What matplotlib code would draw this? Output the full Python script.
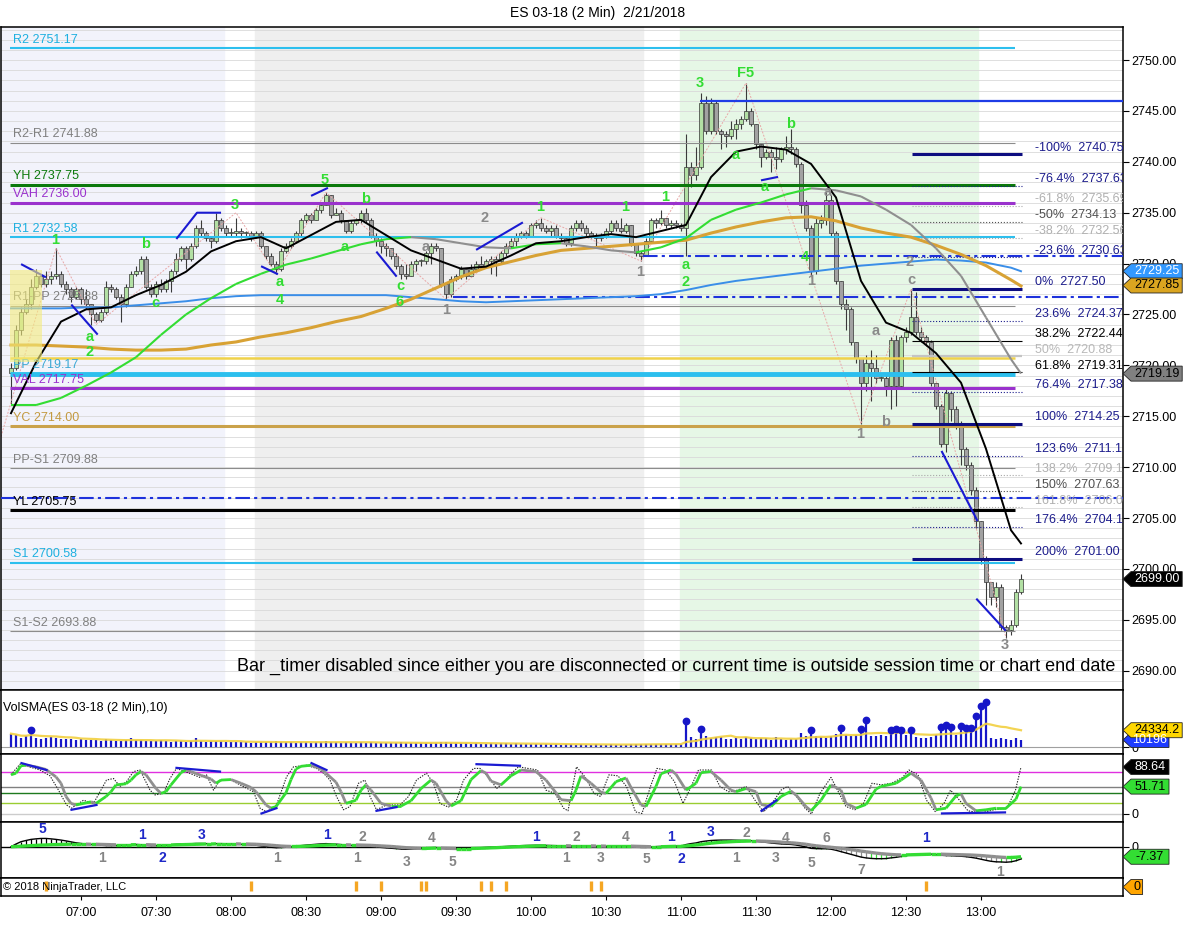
import numpy as np
import pandas as pd
import matplotlib
matplotlib.use("Agg")
import matplotlib.pyplot as plt
from matplotlib.collections import LineCollection
from matplotlib.patches import Polygon, Rectangle
from matplotlib.transforms import IdentityTransform

plt.rcParams['font.family'] = ['Liberation Sans', 'DejaVu Sans']

# ---------------- data (2 min bars, index 0 = 06:32) ----------------
open0 = 2719.25
closes = [
    2719.75, 2723.5, 2725.25, 2726.0, 2727.75, 2728.75, 2728.0, 2728.5, 2728.75, 2729.0,
    2728.0, 2727.5, 2726.75, 2727.5, 2726.5, 2726.0, 2725.0, 2724.5, 2725.25, 2727.75,
    2727.5, 2726.75, 2726.0, 2727.75, 2729.0, 2729.25, 2730.5, 2727.75, 2727.0, 2728.0,
    2727.5, 2728.25, 2729.25, 2730.5, 2731.5, 2730.5, 2731.75, 2733.5, 2733.0, 2732.5,
    2732.25, 2734.25, 2733.5, 2733.0, 2733.0, 2733.25, 2733.0, 2733.0, 2732.75, 2733.0,
    2731.75, 2730.75, 2730.0, 2729.5, 2731.25, 2731.75, 2732.25, 2733.0, 2734.25, 2734.75,
    2734.25, 2735.25, 2735.75, 2736.75, 2734.75, 2735.0, 2734.25, 2733.25, 2734.0, 2734.25,
    2735.0, 2734.25, 2732.75, 2732.25, 2731.75, 2731.5, 2730.75, 2729.75, 2729.0, 2728.75,
    2730.0, 2730.25, 2730.25, 2731.0, 2731.75, 2731.5, 2728.0, 2727.0, 2728.5, 2728.75,
    2729.5, 2728.75, 2729.5, 2730.0, 2729.75, 2730.25, 2730.5, 2730.25, 2731.0, 2731.75,
    2732.25, 2732.75, 2733.0, 2732.75, 2733.75, 2734.0, 2733.5, 2733.25, 2733.5, 2732.75,
    2732.5, 2732.0, 2733.5, 2734.0, 2733.5, 2733.0, 2732.75, 2732.5, 2732.75, 2733.25,
    2734.0, 2733.5, 2733.25, 2733.75, 2732.0, 2731.0, 2730.75, 2732.25, 2734.25, 2734.0,
    2734.5, 2733.75, 2734.0, 2733.75, 2733.5, 2739.5, 2738.75, 2739.5, 2745.75, 2743.0,
    2745.75, 2743.0, 2742.75, 2742.5, 2743.25, 2743.75, 2744.25, 2745.0, 2743.75, 2741.75,
    2740.5, 2741.0, 2740.5, 2740.25, 2741.25, 2741.5, 2741.25, 2739.75, 2735.75, 2733.5,
    2729.25, 2734.0, 2734.25, 2736.25, 2733.0, 2728.25, 2726.0, 2725.5, 2722.25, 2720.75,
    2718.25, 2720.25, 2719.75, 2718.75, 2718.75, 2718.0, 2722.5, 2718.0, 2722.75, 2723.25,
    2724.75, 2723.25, 2722.75, 2722.25, 2718.25, 2716.0, 2712.25, 2717.25, 2715.75, 2714.25,
    2711.75, 2710.25, 2707.75, 2704.75, 2701.0, 2698.75, 2697.25, 2698.25, 2694.25, 2694.0,
    2694.5, 2697.75, 2699.0]
highs = [
    2720.25, 2724.0, 2725.75, 2726.5, 2728.5, 2729.5, 2729.0, 2729.25, 2729.25, 2731.5,
    2729.25, 2728.25, 2727.75, 2727.75, 2727.75, 2727.5, 2726.0, 2725.25, 2725.5, 2728.25,
    2728.0, 2727.75, 2727.0, 2728.0, 2729.25, 2729.75, 2730.75, 2730.75, 2728.0, 2728.25,
    2728.5, 2728.5, 2729.5, 2731.0, 2731.75, 2731.75, 2732.0, 2733.75, 2734.25, 2733.25,
    2732.75, 2735.0, 2734.5, 2733.75, 2733.5, 2734.5, 2733.5, 2733.25, 2733.25, 2733.25,
    2733.25, 2731.75, 2731.0, 2730.25, 2731.5, 2732.0, 2732.5, 2733.25, 2734.5, 2735.0,
    2735.0, 2735.5, 2736.0, 2737.0, 2736.75, 2735.5, 2735.25, 2734.25, 2734.25, 2734.5,
    2735.25, 2735.5, 2734.5, 2733.0, 2732.5, 2732.0, 2731.5, 2731.0, 2730.0, 2730.0,
    2730.25, 2730.5, 2730.5, 2731.25, 2732.0, 2732.0, 2731.5, 2728.0, 2728.75, 2729.0,
    2729.75, 2729.5, 2730.0, 2730.25, 2730.75, 2730.5, 2730.75, 2730.75, 2731.25, 2732.0,
    2732.5, 2733.0, 2733.25, 2733.25, 2734.0, 2734.25, 2734.5, 2733.75, 2733.75, 2733.75,
    2733.0, 2732.75, 2733.75, 2734.25, 2734.25, 2733.75, 2733.25, 2733.0, 2733.0, 2733.5,
    2734.25, 2734.25, 2734.5, 2734.0, 2733.75, 2732.0, 2731.25, 2732.5, 2734.5, 2734.5,
    2735.25, 2734.5, 2734.25, 2734.25, 2734.0, 2742.75, 2740.0, 2741.5, 2746.75, 2746.5,
    2746.25, 2746.0, 2743.25, 2743.0, 2744.0, 2744.25, 2744.5, 2747.75, 2745.25, 2743.75,
    2741.75, 2741.25, 2741.25, 2741.5, 2741.5, 2742.5, 2743.25, 2741.5, 2740.0, 2736.25,
    2733.75, 2734.5, 2734.75, 2737.0, 2736.75, 2733.25, 2728.25, 2726.5, 2725.75, 2722.25,
    2720.75, 2721.0, 2721.5, 2721.0, 2719.25, 2719.25, 2722.75, 2723.0, 2723.0, 2723.75,
    2727.5, 2727.25, 2723.75, 2723.0, 2722.5, 2718.25, 2716.25, 2717.75, 2717.5, 2716.0,
    2714.5, 2712.0, 2710.5, 2708.0, 2704.75, 2701.25, 2698.75, 2698.75, 2698.5, 2694.5,
    2695.0, 2698.0, 2699.5]
lows = [
    2716.25, 2719.5, 2723.0, 2725.0, 2725.5, 2727.5, 2727.75, 2727.75, 2728.0, 2728.5,
    2727.75, 2727.0, 2726.25, 2726.5, 2726.0, 2725.5, 2724.0, 2724.25, 2724.25, 2725.0,
    2727.25, 2726.5, 2724.25, 2725.75, 2727.75, 2728.75, 2729.0, 2727.5, 2726.75, 2726.75,
    2727.25, 2727.25, 2727.25, 2729.0, 2730.25, 2729.5, 2730.25, 2731.5, 2732.75, 2732.25,
    2731.5, 2732.0, 2733.25, 2732.75, 2732.75, 2732.75, 2732.5, 2732.75, 2732.25, 2732.5,
    2731.5, 2730.5, 2729.75, 2729.0, 2729.25, 2731.0, 2731.5, 2732.0, 2732.75, 2734.0,
    2734.0, 2734.25, 2735.0, 2735.75, 2734.5, 2734.75, 2734.0, 2733.0, 2733.0, 2733.75,
    2734.0, 2734.0, 2732.5, 2731.75, 2731.0, 2730.75, 2730.5, 2729.5, 2728.5, 2728.5,
    2728.75, 2729.25, 2729.75, 2730.0, 2730.0, 2731.25, 2727.75, 2726.5, 2726.75, 2728.25,
    2728.5, 2728.5, 2728.75, 2729.25, 2729.5, 2729.75, 2729.0, 2728.75, 2730.0, 2730.75,
    2731.5, 2731.75, 2732.5, 2732.5, 2732.75, 2733.5, 2733.25, 2733.0, 2732.75, 2732.5,
    2732.25, 2731.75, 2731.75, 2733.25, 2733.25, 2732.75, 2732.5, 2731.5, 2732.25, 2732.5,
    2733.0, 2733.25, 2733.0, 2733.0, 2731.75, 2730.75, 2730.25, 2730.75, 2732.0, 2733.5,
    2733.75, 2733.5, 2733.5, 2733.5, 2733.25, 2730.75, 2737.5, 2738.25, 2739.25, 2742.75,
    2742.75, 2742.75, 2741.25, 2741.5, 2742.25, 2742.25, 2743.25, 2744.0, 2743.5, 2741.25,
    2739.5, 2740.25, 2739.0, 2739.25, 2740.0, 2740.75, 2740.75, 2739.5, 2735.0, 2733.25,
    2728.75, 2729.0, 2733.5, 2733.75, 2732.75, 2728.0, 2725.5, 2723.5, 2722.0, 2720.25,
    2714.25, 2717.5, 2716.5, 2718.25, 2718.5, 2717.0, 2715.75, 2716.0, 2717.75, 2722.25,
    2723.0, 2723.0, 2722.25, 2722.0, 2718.0, 2715.75, 2712.0, 2711.5, 2714.5, 2713.75,
    2710.25, 2709.75, 2707.25, 2704.0, 2700.5, 2696.5, 2696.5, 2696.25, 2694.0, 2693.25,
    2693.5, 2694.25, 2697.5]

volume = [
    19300, 17000, 13000, 16000, 21800, 13500, 12000, 13000, 14500, 13000, 12000, 12000, 11200, 10600, 11200,
    10600, 9700, 10200, 9100, 11200, 9700, 9100, 8700, 9700, 13000, 9700, 10200, 9100, 8700, 8300,
    10200, 9100, 7300, 8300, 9100, 7300, 8700, 13500, 8300, 7700, 8300, 8700, 8300, 7700, 7300,
    7300, 6800, 7000, 6500, 6800, 7500, 6900, 7200, 8000, 7400, 6600, 7000, 6400, 6800, 7200,
    6300, 6900, 7100, 8200, 7000, 6600, 6300, 6800, 6100, 6500, 7700, 6400, 6900, 6000, 5700,
    6200, 5900, 6300, 6600, 5400, 5800, 6100, 5600, 5900, 6400, 5500, 6700, 7000, 5800, 5600,
    5200, 5600, 4800, 5300, 5000, 4600, 5400, 4900, 5700, 5100, 4700, 5300, 4500, 4200, 4800,
    4400, 4100, 3900, 4300, 3800, 3600, 4000, 3700, 3500, 3900, 3400, 3300, 3700, 3200, 3500,
    3900, 3600, 3400, 3100, 3800, 4200, 4600, 3900, 4400, 3700, 4100, 3800, 4300, 4000, 4500,
    34500, 14000, 11000, 23000, 15500, 13000, 14500, 15000, 12000, 11500,
    13000, 11000, 14000, 12500, 11000, 13500, 12500, 10500, 14000, 11500,
    10000, 11000, 12000, 21000, 16000, 21500, 16500, 14500, 12500, 15500,
    18500, 24500, 17000, 16500, 17500, 23500, 36500, 16000, 16500, 17000,
    15500, 22500, 23000, 22000, 17000, 21500, 14500, 13000, 13500, 14000,
    18000, 27000, 29000, 26500, 17000, 27500, 25500, 24500, 42000, 57000,
    62100, 13500, 12000, 12500, 11000, 10500, 12500, 10196]
vol_dot_bars = [4, 135, 138, 160, 166, 170, 171, 176, 177, 178, 180, 186, 187, 188,
                190, 191, 192, 193, 194, 195]

# moving averages read every 5 bars
ma_bars = [0, 5, 10, 15, 20, 25, 30, 35, 40, 45, 50, 55, 60, 65, 70, 75, 80, 85, 90, 95,
           100, 105, 110, 115, 120, 125, 130, 135, 140, 145, 150, 155, 160, 165, 170, 175,
           180, 185, 190, 195, 200, 202]
ma_fast = [2715.3, 2720.3, 2724.3, 2725.5, 2725.7, 2726.9, 2727.9, 2729.2, 2731.2, 2732.2,
           2732.6, 2731.5, 2732.8, 2734.1, 2734.3, 2732.8, 2731.3, 2730.4, 2729.5, 2729.7,
           2730.8, 2732.0, 2732.2, 2732.6, 2732.9, 2732.6, 2733.2, 2733.8, 2738.5, 2741.0,
           2741.5, 2741.2, 2739.8, 2736.5, 2728.3, 2724.2, 2723.2, 2721.2, 2718.3, 2711.8,
           2703.8, 2702.5]
ma_mid = [2716.1, 2716.1, 2716.8, 2718.0, 2719.3, 2720.8, 2723.0, 2725.0, 2726.6, 2728.0,
          2729.0, 2729.9, 2730.5, 2731.2, 2731.9, 2732.4, 2732.6, 2732.4, 2732.0, 2731.6,
          2731.5, 2731.9, 2732.0, 2731.7, 2731.3, 2731.1, 2731.6, 2732.5, 2734.3, 2735.3,
          2736.0, 2736.8, 2737.4, 2737.2, 2736.6, 2735.3, 2733.8, 2731.5, 2728.8, 2724.7,
          2720.6, 2719.2]
ma_slow = [2722.0, 2722.0, 2721.9, 2721.8, 2721.6, 2721.5, 2721.5, 2721.6, 2722.0, 2722.3,
           2722.8, 2723.2, 2723.7, 2724.3, 2724.8, 2725.6, 2726.5, 2727.6, 2728.7, 2729.6,
           2730.2, 2730.8, 2731.3, 2731.5, 2731.7, 2731.9, 2732.1, 2732.3, 2733.0, 2733.6,
           2734.1, 2734.5, 2734.6, 2734.2, 2733.5, 2733.0, 2732.6, 2731.8, 2730.9, 2729.8,
           2728.4, 2727.8]
vwap = [2725.6, 2725.6, 2725.6, 2725.7, 2725.7, 2725.9, 2726.1, 2726.3, 2726.6, 2726.8,
        2726.9, 2726.9, 2726.9, 2726.9, 2726.9, 2726.9, 2726.7, 2726.5, 2726.3, 2726.2,
        2726.3, 2726.4, 2726.5, 2726.6, 2726.7, 2726.8, 2727.0, 2727.4, 2727.9, 2728.3,
        2728.6, 2728.9, 2729.2, 2729.5, 2729.8, 2730.0, 2730.2, 2730.4, 2730.3, 2730.1,
        2729.6, 2729.25]

# pivot levels
lvl_names = ['R2', 'R2-R1', 'YH', 'VAH', 'R1', 'R1-PP', 'PP', 'VAL', 'YC', 'PP-S1', 'YL', 'S1', 'S1-S2']
lvl_vals = [2751.17, 2741.88, 2737.75, 2736.00, 2732.58, 2725.88, 2719.17, 2717.75,
            2714.00, 2709.88, 2705.75, 2700.58, 2693.88]
poc_val = 2720.75
swing_val = 2746.0
dashdot_vals = [2730.75, 2726.75, 2707.0]
dashdot_start = [126.4, 88.4, -2]

# fibonacci levels
fib_pct = ['-100%', '-76.4%', '-61.8%', '-50%', '-38.2%', '-23.6%', '0%', '23.6%', '38.2%',
           '50%', '61.8%', '76.4%', '100%', '123.6%', '138.2%', '150%', '161.8%', '176.4%', '200%']
fib_val = [2740.75, 2737.63, 2735.69, 2734.13, 2732.56, 2730.63, 2727.50, 2724.37, 2722.44,
           2720.88, 2719.31, 2717.38, 2714.25, 2711.12, 2709.19, 2707.63, 2706.06, 2704.13, 2701.00]
fib_kind = ['thick', 'navy', 'lgray', 'dgray', 'lgray', 'navy', 'thick', 'navy', 'black',
            'lgray_solid', 'black', 'navy', 'thick', 'navy', 'lgray', 'dgray', 'lgray', 'navy', 'thick']

# wave labels
green_txt = ['1', 'a', '2', 'b', 'c', '3', 'a', '4', '5', 'b', 'a', 'c', '6', '1', '1', '1',
             'a', '2', '3', 'F5', 'a', 'b', 'a', '4']
green_bar = [8.8, 15.8, 15.8, 27, 28.8, 44.8, 53.8, 53.8, 62.8, 71, 66.8, 77.8, 77.8, 105.8,
             122.8, 130.8, 135, 135, 137.8, 147, 145, 156, 150.8, 158.8]
green_px = [2732.3, 2722.8, 2721.3, 2731.9, 2726.1, 2735.75, 2728.2, 2726.4, 2738.2, 2736.3,
            2731.6, 2727.8, 2726.2, 2735.6, 2735.6, 2736.5, 2729.9, 2728.2, 2747.7, 2748.7,
            2740.7, 2743.7, 2737.5, 2730.6]
gray_txt = ['a', '1', '2', '1', '1', 'a', '2', 'c', 'a', '1', 'b', '3']
gray_bar = [83, 87, 94.8, 125.8, 160, 163.4, 179.8, 180, 173, 169.8, 175, 198.8]
gray_px = [2731.6, 2725.4, 2734.5, 2729.2, 2728.3, 2737.0, 2730.2, 2728.4, 2723.4, 2713.3,
           2714.4, 2692.5]

zz_bar = [-2, 9, 17, 45, 53, 63, 87, 106, 126, 147, 170, 180, 199]
zz_px = [2713.0, 2731.5, 2724.0, 2735.0, 2729.0, 2737.0, 2726.5, 2734.5, 2730.25, 2747.75,
         2714.25, 2727.5, 2693.25]

trend_main = [
    [(2.2, 2729.9), (6.8, 2728.7)],
    [(12.2, 2725.9), (17.2, 2723.1)],
    [(33.2, 2732.5), (37.2, 2735.0), (41.8, 2735.0)],
    [(50.2, 2729.7), (53.2, 2729.0)],
    [(60.2, 2736.7), (63.2, 2737.4)],
    [(73.2, 2731.1), (77.0, 2728.8)],
    [(93.2, 2731.4), (102.2, 2734.0)],
    [(150.2, 2738.2), (153.2, 2738.5)],
    [(186.2, 2711.5), (193.2, 2704.8)],
    [(193.2, 2697.0), (198.8, 2694.0)],
]

# stochastics
stoch_d_bar = [0, 1, 2, 3, 5, 7, 9, 10, 11, 12, 13, 15, 16, 17, 19, 20, 21, 23, 24, 25,
               26, 27, 29, 30, 31, 32, 34, 35, 36, 38, 40, 41, 42, 44, 46, 48, 49, 51, 52, 53,
               55, 56, 57, 58, 60, 62, 63, 65, 66, 67, 69, 70, 71, 72, 74, 76, 78, 80, 82, 84,
               85, 87, 88, 90, 91, 92, 94, 95, 96, 98, 100, 102, 105, 107, 109, 110, 112, 113, 114, 116,
               118, 119, 121, 123, 124, 126, 127, 129, 130, 132, 133, 135, 137, 138, 140, 142, 144, 145, 147, 149,
               150, 152, 154, 156, 157, 159, 160, 162, 164, 166, 167, 169, 171, 173, 174, 177, 178, 180, 182, 184,
               185, 187, 189, 190, 191, 193, 195, 197, 199, 201, 202]
stoch_d = [74, 77, 91, 92, 89, 84, 70, 58, 33, 20, 17, 21, 23, 20, 33, 42, 55, 57, 64, 74,
           80, 74, 48, 39, 42, 55, 78, 83, 80, 73, 66, 58, 64, 65, 58, 50, 42, 17, 11, 14,
           40, 65, 85, 90, 92, 85, 77, 60, 42, 20, 26, 45, 55, 45, 20, 15, 15, 25, 48, 64,
           58, 25, 15, 25, 45, 65, 82, 77, 62, 55, 72, 83, 80, 64, 40, 27, 25, 45, 72, 58,
           41, 39, 61, 68, 50, 17, 14, 52, 76, 83, 75, 45, 58, 78, 80, 64, 45, 42, 48, 42,
           18, 14, 33, 43, 36, 14, 6, 26, 55, 45, 20, 11, 18, 47, 52, 58, 64, 77, 64, 30,
           8, 11, 34, 38, 20, 6, 8, 11, 11, 28, 51.71]
stoch_k_bar = [0, 0.8, 1.8, 5.8, 7.8, 9.5, 11.1, 12.1, 14.5, 16.5, 19.1, 20.5, 21.8, 23.1, 24.5,
               25.8, 27.8, 28.8, 30.5, 31.8, 33.1, 34.8, 36.5, 37.8, 39.1, 40.5, 41.8, 43.8, 45.8,
               48.5, 49.8, 51.1, 53.1, 55.1, 56.5, 59.1, 61.1, 62.5, 63.8, 65.1, 66.5, 67.8, 69.5,
               70.8, 71.8, 73.1, 75.1, 77.8, 79.5, 81.1, 83.1, 84.5, 85.8, 87.5, 89.1, 90.5, 92.5,
               93.8, 95.8, 97.1, 98.5, 99.8, 101.5, 105.3, 107, 108.8, 110.5, 111.4, 113.1, 114.8,
               116.6, 117.9, 119.6, 121.4, 123.1, 124.9, 126.2, 127.9, 129.2, 130.9, 132.7, 134.4,
               135.7, 137.5, 140.1, 141.8, 143.5, 145.3, 147, 148.8, 150.5, 152.2, 154, 155.3, 157.1,
               158.8, 160.1, 161.8, 164, 165.3, 167, 168.8, 170.5, 172.2, 174, 176.1, 178.3, 179.6,
               181.4, 183.1, 184.9, 186.6, 187.9, 189.7, 191.4, 194, 196.6, 199.2, 200.9, 202]
stoch_k = [74, 83, 94, 83, 72, 45, 17, 11, 26, 20, 64, 67, 52, 61, 80, 83, 45, 36, 39, 67,
           86, 80, 74, 69, 74, 45, 64, 65, 55, 42, 11, 4, 17, 70, 89, 92, 86, 77, 64, 33,
           8, 14, 58, 64, 33, 8, 17, 17, 33, 64, 77, 58, 20, 13, 26, 64, 86, 86, 67, 48,
           58, 74, 89, 83, 45, 39, 11, 6, 89, 70, 39, 33, 74, 72, 52, 4, 1, 52, 86, 83,
           61, 20, 45, 83, 83, 52, 42, 45, 52, 26, 4, 20, 45, 52, 33, 11, 0, 39, 69, 45,
           14, 8, 20, 58, 55, 58, 69, 83, 74, 26, 4, 20, 45, 26, 6, 2, 8, 11, 45, 88.64]
trend_stoch = [[(2.1, 96), (7.1, 83)], [(12.1, 8), (17.1, 17)], [(33.1, 87), (41.8, 80)],
               [(50.1, 1), (53.1, 11)], [(60.1, 96), (63.1, 83)], [(73.1, 6), (77.1, 13)],
               [(93.1, 94), (101.8, 91)], [(150.1, 6), (153.1, 26)], [(186.2, 1), (198.8, 3)]]

# macd
macd = [
    0.0, 2.0, 3.7, 4.6, 5.4, 5.8, 6.1, 6.1, 5.8, 5.4,
    4.9, 4.3, 3.6, 2.9, 2.4, 2.0, 1.7, 1.4, 1.1, 0.9,
    0.8, 0.9, 1.1, 1.3, 1.6, 1.7, 1.5, 1.1, 0.8, 0.8,
    0.9, 1.1, 1.4, 1.8, 2.0, 2.1, 2.2, 2.4, 2.4, 2.3,
    2.2, 2.3, 2.3, 2.2, 2.1, 2.0, 1.8, 1.6, 1.4, 1.1,
    0.6, 0.1, -0.4, -0.7, -0.6, -0.4, -0.1, 0.3, 0.8, 1.2,
    1.5, 1.8, 2.1, 2.3, 2.1, 1.9, 1.6, 1.2, 1.0, 0.9,
    0.9, 0.7, 0.3, -0.1, -0.5, -0.8, -1.1, -1.4, -1.7, -1.9,
    -1.8, -1.6, -1.3, -1.0, -0.7, -0.6, -1.0, -1.5, -1.7, -1.6,
    -1.4, -1.3, -1.1, -0.9, -0.7, -0.5, -0.3, -0.2, 0.0, 0.2,
    0.4, 0.6, 0.8, 0.9, 1.0, 1.1, 1.1, 1.0, 0.9, 0.8,
    0.6, 0.4, 0.5, 0.6, 0.6, 0.5, 0.4, 0.3, 0.3, 0.3,
    0.4, 0.4, 0.4, 0.4, 0.2, -0.2, -0.5, -0.5, -0.2, 0.1,
    0.3, 0.4, 0.5, 0.5, 0.5, 1.6, 2.3, 2.8, 3.7, 4.2,
    4.6, 4.8, 4.9, 4.9, 4.9, 4.8, 4.7, 4.7, 4.5, 4.1,
    3.6, 3.2, 2.8, 2.4, 2.1, 1.9, 1.7, 1.3, 0.6, -0.2,
    -1.2, -1.4, -1.5, -1.5, -1.8, -2.6, -3.6, -4.6, -5.6, -6.6,
    -7.6, -8.2, -8.6, -8.8, -8.8, -8.7, -8.2, -7.8, -7.2, -6.6,
    -6.0, -5.7, -5.4, -5.3, -5.4, -5.8, -6.3, -6.5, -6.6, -6.8,
    -7.0, -7.3, -7.8, -8.4, -9.2, -10.0, -10.7, -11.1, -11.2, -11.4,
    -11.1, -10.3, -9.0]
macd_avg = [
    0.0, 0.2, 0.4, 0.6, 0.8, 1.0, 1.2, 1.3, 1.5, 1.6,
    1.7, 1.8, 1.9, 1.9, 1.9, 1.9, 1.8, 1.8, 1.7, 1.6,
    1.5, 1.4, 1.4, 1.4, 1.4, 1.5, 1.5, 1.5, 1.4, 1.3,
    1.3, 1.3, 1.3, 1.4, 1.5, 1.6, 1.7, 1.8, 1.9, 2.0,
    2.0, 2.1, 2.1, 2.1, 2.1, 2.1, 2.0, 2.0, 1.9, 1.8,
    1.6, 1.4, 1.1, 0.8, 0.5, 0.3, 0.2, 0.2, 0.3, 0.4,
    0.6, 0.8, 1.0, 1.2, 1.3, 1.4, 1.4, 1.4, 1.3, 1.3,
    1.2, 1.1, 1.0, 0.8, 0.6, 0.4, 0.2, -0.1, -0.4, -0.7,
    -0.9, -1.1, -1.2, -1.2, -1.1, -1.0, -1.0, -1.1, -1.2, -1.3,
    -1.3, -1.3, -1.3, -1.2, -1.1, -1.0, -0.8, -0.7, -0.5, -0.4,
    -0.2, 0.0, 0.1, 0.3, 0.4, 0.5, 0.6, 0.7, 0.7, 0.7,
    0.7, 0.7, 0.6, 0.6, 0.6, 0.6, 0.6, 0.5, 0.5, 0.4,
    0.4, 0.4, 0.4, 0.4, 0.4, 0.3, 0.2, 0.1, 0.0, 0.0,
    0.0, 0.1, 0.2, 0.3, 0.3, 0.6, 0.9, 1.3, 1.7, 2.2,
    2.6, 3.0, 3.3, 3.5, 3.7, 3.9, 4.0, 4.1, 4.2, 4.2,
    4.1, 4.0, 3.8, 3.6, 3.4, 3.1, 2.9, 2.6, 2.2, 1.8,
    1.2, 0.7, 0.3, -0.1, -0.4, -0.8, -1.2, -1.6, -2.1, -2.6,
    -3.2, -3.7, -4.2, -4.7, -5.1, -5.4, -5.7, -5.9, -6.0, -6.0,
    -5.9, -5.8, -5.7, -5.6, -5.5, -5.5, -5.5, -5.6, -5.7, -5.8,
    -5.9, -6.0, -6.1, -6.3, -6.5, -6.8, -7.1, -7.4, -7.7, -7.9,
    -7.9, -7.7, -7.37]
macd_lbl_bar = [6.2, 18.2, 26.2, 30.2, 38.2, 53.2, 63.2, 70.2, 69.2, 79.2, 84.2, 88.2, 105, 113,
                111, 118, 123, 127, 132, 134, 140, 147, 145, 153, 155, 163, 160, 170, 183, 197.8]
macd_lbl_val = [13.2, -8.3, 8.6, -8.3, 8.6, -8.3, 8.6, 7.1, -8.3, -11.2, 6.4, -11.2, 7.1, 7.1,
                -8.3, -8.3, 7.1, -9.0, 7.1, -9.0, 10.8, 10.1, -8.3, -8.3, 6.4, 6.4, -12.0, -17.1,
                6.4, -18.6]
macd_lbl_txt = ['5', '1', '1', '2', '3', '1', '1', '2', '1', '3', '4', '5', '1', '2',
                '1', '3', '4', '5', '1', '2', '3', '2', '1', '3', '4', '6', '5', '7', '1', '1']
macd_lbl_blue = [1, 0, 1, 1, 1, 0, 1, 0, 0, 0, 0, 0, 1, 0,
                 0, 0, 0, 0, 1, 1, 1, 0, 0, 0, 0, 0, 0, 0, 1, 0]

alert_bars = [7, 48, 69, 74, 82, 83, 94, 96, 99, 116, 118, 183]
time_ticks = [14, 29, 44, 59, 74, 89, 104, 119, 134, 149, 164, 179, 194]
time_labels = ['07:00', '07:30', '08:00', '08:30', '09:00', '09:30', '10:00', '10:30',
               '11:00', '11:30', '12:00', '12:30', '13:00']

# ---------------- figure ----------------
W, H = 1202, 952
fig = plt.figure(figsize=(W / 100, H / 100), dpi=100)
fig.patch.set_facecolor('white')


def panel(top, bottom, left=1, right=1123):
    return fig.add_axes([left / W, 1 - bottom / H, (right - left) / W, (bottom - top) / H])


ax = panel(27, 690)
axv = panel(690, 754)
axs = panel(754, 822)
axm = panel(822, 878)
axa = panel(878, 896)

XL = (-2, 222.4)
for a in (ax, axv, axs, axm, axa):
    a.set_xlim(*XL)
    a.set_facecolor('white')
    for sp in a.spines.values():
        sp.set_color('black')
        sp.set_linewidth(1.1)
    a.yaxis.tick_right()
    a.tick_params(axis='y', left=False, right=True, direction='out', length=4,
                  width=0.8, labelsize=9, pad=2)
    a.tick_params(axis='x', bottom=False, labelbottom=False)

x = np.arange(len(closes))
c = np.array(closes)
o = np.r_[open0, c[:-1]]
h = np.maximum(np.array(highs), np.maximum(o, c))
l = np.minimum(np.array(lows), np.minimum(o, c))

# ---- main price panel ----
ax.set_ylim(2688.1, 2753.25)
ax.axvspan(-2, 42.6, color='#f2f3fb', zorder=0)
ax.axvspan(48.8, 126.4, color='#efefef', zorder=0)
ax.axvspan(133.8, 193.4, color='#e6f7e6', zorder=0)
ax.hlines(np.arange(2689, 2754), XL[0], XL[1], color='#d9d9d9', lw=0.6, zorder=0.5)

lvl_colors = ['#2cbfee', '#8c8c8c', '#0b790b', '#9a32cd', '#2cbfee', '#8c8c8c', '#2cbfee',
              '#9a32cd', '#caa24a', '#8c8c8c', '#000000', '#2cbfee', '#8c8c8c']
lvl_widths = [1.5, 0.8, 2.2, 2.2, 1.5, 0.8, 3.5, 2.2, 2.2, 0.8, 2.2, 1.5, 0.8]
lvl_txt_colors = ['#1eb0e0', '#808080', '#0b790b', '#9a32cd', '#1eb0e0', '#808080', '#3aa8d4',
                  '#9a32cd', '#c39a40', '#808080', '#000000', '#1eb0e0', '#808080']

# candles
ax.vlines(x, l, h, color='#3a3a3a', lw=0.8, zorder=2)
body_lo = np.minimum(o, c)
body_h = np.maximum(np.abs(c - o), 0.12)
ax.bar(x, body_h, bottom=body_lo, width=0.74,
       color=np.where(c >= o, '#b2e0a4', '#a2a2a2'),
       edgecolor='#333333', linewidth=0.5, zorder=2.1)

ax.plot(zz_bar, zz_px, color='#e8a8a8', lw=0.7, ls=(0, (2, 1.5)), zorder=2.5)

for v, col, lw in zip(lvl_vals, lvl_colors, lvl_widths):
    ax.hlines(v, -0.2, 200.8, color=col, lw=lw, zorder=3)
ax.hlines(poc_val, -0.2, 200.8, color='#f0d24a', lw=1.8, zorder=3)
ax.hlines(swing_val, 137.8, XL[1], color='#1e3ce6', lw=1.6, zorder=3)
for v, s in zip(dashdot_vals, dashdot_start):
    ax.hlines(v, s, XL[1], color='#1e32dc', lw=1.5, linestyles=[(0, (7, 2, 1.5, 2))], zorder=3)

for name, v, col in zip(lvl_names, lvl_vals, lvl_txt_colors):
    ax.text(0.4, v + 0.85, f'{name} {v:.2f}', color=col, fontsize=9, va='center',
            ha='left', zorder=6)

ax.add_patch(Rectangle((-0.2, 2720.3), 6.4, 9.1, facecolor='#f4ec7c', alpha=0.6,
                       edgecolor='none', zorder=6.5))

# moving averages
ax.plot(ma_bars, vwap, color='#3a8ee8', lw=1.4, zorder=4)
ax.plot(ma_bars, ma_slow, color='#d8a235', lw=2.2, zorder=4)
seg = [[(ma_bars[i], ma_mid[i]), (ma_bars[i + 1], ma_mid[i + 1])] for i in range(len(ma_bars) - 1)]
seg_col = ['#33dd33' if ma_mid[i + 1] >= ma_mid[i] else '#8f8f8f' for i in range(len(ma_bars) - 1)]
ax.add_collection(LineCollection(seg, colors=seg_col, linewidths=1.5, zorder=4.2))
ax.plot(ma_bars, ma_fast, color='black', lw=1.4, zorder=4.5)

# fibonacci
fib_line = {'thick': ('#0d0d80', 2.2, '-'), 'navy': ('#1c1c8c', 0.8, ':'),
            'lgray': ('#a8a8a8', 0.8, ':'), 'dgray': ('#505050', 0.8, ':'),
            'black': ('#000000', 0.8, '-'), 'lgray_solid': ('#c4c4c4', 1.6, '-')}
fib_txt = {'thick': '#1c1c8c', 'navy': '#1c1c8c', 'lgray': '#b0b0b0', 'dgray': '#505050',
           'black': '#000000', 'lgray_solid': '#b8b8b8'}
for p, v, k in zip(fib_pct, fib_val, fib_kind):
    col, lw, ls = fib_line[k]
    ax.hlines(v, 180.2, 202.2, color=col, lw=lw, linestyles=ls, zorder=3.5)
    ax.text(204.8, v + 0.65, f'{p}  {v:.2f}', color=fib_txt[k], fontsize=9, va='center',
            ha='left', zorder=6, clip_on=True)

for pts in trend_main:
    xs, ys = zip(*pts)
    ax.plot(xs, ys, color='#1a1ad2', lw=1.5, zorder=5)

for t, b, p in zip(green_txt, green_bar, green_px):
    ax.text(b, p, t, color='#33dd33', fontsize=10.5, fontweight='bold', ha='center',
            va='center', zorder=7)
for t, b, p in zip(gray_txt, gray_bar, gray_px):
    ax.text(b, p, t, color='#8a8a8a', fontsize=10.5, fontweight='bold', ha='center',
            va='center', zorder=7)

ax.text(0.9929, 0.035, 'Bar _timer disabled since either you are disconnected or current '
        'time is outside session time or chart end date', transform=ax.transAxes,
        ha='right', va='center', fontsize=13, color='black', zorder=8)

ax.set_yticks(np.arange(2690, 2751, 5))
ax.set_yticklabels([f'{v:.2f}' for v in np.arange(2690, 2751, 5)])

# ---- volume ----
axv.set_ylim(-10150, 82650)
axv.axhline(0, color='#a0a0a0', lw=0.8, zorder=1)
vol = np.array(volume, dtype=float)
axv.vlines(x, 0, vol, color='#1616c8', lw=1.6, zorder=2)
axv.plot(vol_dot_bars, vol[vol_dot_bars] + 2600, 'o', ms=4.6, color='#1616c8', zorder=3)
vol_sma = pd.Series(vol).rolling(10, min_periods=1).mean()
axv.plot(x, vol_sma, color='#f2d040', lw=1.6, alpha=0.9, zorder=2.5)
axv.text(0.0018, 0.72, 'VolSMA(ES 03-18 (2 Min),10)', transform=axv.transAxes, fontsize=9,
         va='center', ha='left')
axv.set_yticks([0])
axv.set_yticklabels(['0'])

# ---- stochastics ----
axs.set_ylim(-15.1, 113.2)
for v, col in zip([80, 50, 40, 20, 0], ['#e030e0', '#808080', '#1e7a1e', '#9acd32', '#cccccc']):
    axs.axhline(v, color=col, lw=1.0, zorder=1)
axs.plot(stoch_k_bar, stoch_k, color='#222222', lw=0.8, ls=(0, (1.2, 1.2)), zorder=2)
sseg = [[(stoch_d_bar[i], stoch_d[i]), (stoch_d_bar[i + 1], stoch_d[i + 1])]
        for i in range(len(stoch_d) - 1)]
scol = ['#33dd33' if stoch_d[i + 1] >= stoch_d[i] else '#8f8f8f' for i in range(len(stoch_d) - 1)]
axs.add_collection(LineCollection(sseg, colors=scol, linewidths=2.0, zorder=3))
for pts in trend_stoch:
    xs, ys = zip(*pts)
    axs.plot(xs, ys, color='#1a1ad2', lw=1.6, zorder=4)
axs.set_yticks([0])
axs.set_yticklabels(['0'])

# ---- macd ----
axm.set_ylim(-23.0, 18.2)
axm.axhline(0, color='black', lw=1.0, zorder=1)
mc = np.array(macd)
sg = np.array(macd_avg)
hist = mc - sg
hcol = []
for i in range(len(hist)):
    if hist[i] >= 0:
        hcol.append('#000000')
    elif i > 0 and hist[i] > hist[i - 1]:
        hcol.append('#33dd33')
    else:
        hcol.append('#8a8a8a')
axm.vlines(x, sg, mc, colors=hcol, lw=0.9, zorder=2)
axm.plot(x, mc, color='black', lw=1.0, zorder=3)
mseg = [[(x[i], sg[i]), (x[i + 1], sg[i + 1])] for i in range(len(sg) - 1)]
mcol = ['#33dd33' if sg[i + 1] >= sg[i] else '#8f8f8f' for i in range(len(sg) - 1)]
axm.add_collection(LineCollection(mseg, colors=mcol, linewidths=2.4, zorder=4))
for b, v, t, bl in zip(macd_lbl_bar, macd_lbl_val, macd_lbl_txt, macd_lbl_blue):
    axm.text(b, v, t, color='#1e28c8' if bl else '#858585', fontsize=10, fontweight='bold',
             ha='center', va='center', zorder=5, clip_on=True)
axm.set_yticks([0])
axm.set_yticklabels(['0'])

# ---- alerts strip ----
axa.set_ylim(0, 1)
axa.vlines(alert_bars, 0.28, 0.84, color='#f5a623', lw=2.4, zorder=2)
axa.text(0.0018, 0.5, '\u00a9 2018 NinjaTrader, LLC', transform=axa.transAxes, fontsize=8,
         va='center', ha='left', zorder=3)
axa.set_yticks([])
axa.set_xticks(time_ticks)
axa.set_xticklabels(time_labels)
axa.tick_params(axis='x', bottom=True, labelbottom=True, direction='out', length=3,
                labelsize=9, pad=5)

fig.text(598 / W, 1 - 13 / H, 'ES 03-18 (2 Min)  2/21/2018', ha='center', va='center',
         fontsize=10)


# ---- value tags on the right axis ----
def value_tag(a, val, txt, fc, tc):
    x0 = a.transAxes.transform((1, 0))[0]
    y0 = a.transData.transform((0, val))[1]
    w = 6.6 * len(txt) + 5
    hh = 15
    pts = [(x0, y0), (x0 + 8, y0 + hh / 2), (x0 + 8 + w, y0 + hh / 2),
           (x0 + 8 + w, y0 - hh / 2), (x0 + 8, y0 - hh / 2)]
    fig.add_artist(Polygon(pts, closed=True, facecolor=fc, edgecolor='#222222', lw=0.6,
                           transform=IdentityTransform(), zorder=10))
    fig.text(x0 + 8 + w / 2, y0, txt, color=tc, fontsize=9, ha='center', va='center',
             transform=IdentityTransform(), zorder=11)


value_tag(ax, 2729.25, '2729.25', '#3399ff', 'white')
value_tag(ax, 2727.85, '2727.85', '#daa520', 'black')
value_tag(ax, 2719.19, '2719.19', '#808080', 'black')
value_tag(ax, 2699.00, '2699.00', '#000000', 'white')
value_tag(axv, 10196, '10196', '#1e3cff', 'white')
value_tag(axv, 24334.2, '24334.2', '#ffd700', 'black')
value_tag(axs, 88.64, '88.64', '#000000', 'white')
value_tag(axs, 51.71, '51.71', '#33dd33', 'black')
value_tag(axm, -7.37, '-7.37', '#33dd33', 'black')
value_tag(axa, 0.5, '0', '#ffa500', 'black')

fig.savefig('out.png', dpi=100, facecolor='white')
